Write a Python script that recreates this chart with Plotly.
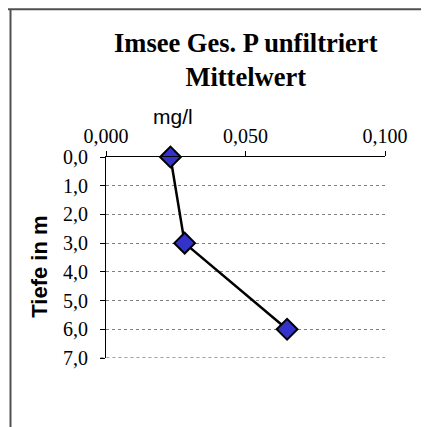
import plotly.graph_objects as go

# Data
depth = [0.0, 3.0, 6.0]
value = [0.0231, 0.0282, 0.0649]
y_ticks = [0, 1, 2, 3, 4, 5, 6, 7]
y_ticktext = ["0,0", "1,0", "2,0", "3,0", "4,0", "5,0", "6,0", "7,0"]
x_ticks = [0.0, 0.05, 0.1]
x_ticktext = ["0,000", "0,050", "0,100"]
y_max = y_ticks[-1]

OFF = 8  # page body margin
W, H = 429, 427
L, R, T, B = 106 - OFF, 385 - OFF, 156.5 - OFF, 358 - OFF


def px(x):
    return (x - OFF - L) / (R - L)


def py(y):
    return (B - (y - OFF)) / (B - T)


fig = go.Figure()
fig.add_trace(go.Scatter(
    x=value, y=depth, mode="lines+markers",
    line=dict(color="black", width=2.5),
    marker=dict(symbol="diamond", size=16, color="#3333CC",
                line=dict(color="black", width=2)),
    showlegend=False, cliponaxis=False,
))

serif = "Liberation Serif, Times New Roman, serif"
sans = "Liberation Sans, Arial, sans-serif"

fig.update_layout(
    width=W, height=H, autosize=False,
    margin=dict(l=L, r=W - R, t=T, b=H - B, pad=0),
    paper_bgcolor="white", plot_bgcolor="white",
    xaxis=dict(
        side="top", range=[0, 0.1], tickvals=x_ticks, ticktext=x_ticktext,
        showgrid=False, zeroline=False, showline=True, linecolor="black",
        linewidth=1, ticks="outside", ticklen=5, tickcolor="black",
        tickfont=dict(family=serif, size=20, color="black"),
        fixedrange=True,
    ),
    yaxis=dict(
        range=[7, 0], tickvals=y_ticks, ticktext=y_ticktext,
        showgrid=True, gridcolor="#808080", griddash="dot", gridwidth=1,
        zeroline=False, showline=True, linecolor="black", linewidth=1,
        ticks="outside", ticklen=5, tickcolor="black",
        ticklabelstandoff=8,
        tickfont=dict(family=serif, size=20, color="black"),
        fixedrange=True,
    ),
    shapes=[
        dict(type="line", xref="paper", yref="y",
             x0=-0.02, x1=1, y0=y_max, y1=y_max,
             line=dict(color="#a0a0a0", width=2, dash="dot")),
        dict(type="line", xref="paper", yref="paper",
             x0=px(0), x1=px(440), y0=py(8.5), y1=py(8.5),
             line=dict(color="#505050", width=2)),
        dict(type="line", xref="paper", yref="paper",
             x0=px(10.5), x1=px(10.5), y0=py(8.5), y1=py(440),
             line=dict(color="#505050", width=2)),
    ],
    annotations=[
        dict(text="<b>Imsee Ges. P unfiltriert<br>Mittelwert</b>",
             xref="paper", yref="paper", x=px(245.5), y=py(25),
             xanchor="center", yanchor="top", showarrow=False,
             font=dict(family=serif, size=26.5, color="black")),
        dict(text="mg/l", xref="paper", yref="paper",
             x=px(173), y=py(116), xanchor="center", yanchor="middle",
             showarrow=False, font=dict(family=sans, size=21, color="black")),
        dict(text="<b>Tiefe in m</b>", xref="paper", yref="paper",
             x=px(40), y=py(266.5), xanchor="center", yanchor="middle",
             textangle=-90, showarrow=False,
             font=dict(family=sans, size=22, color="black")),
    ],
)

fig.write_html("out.html")
